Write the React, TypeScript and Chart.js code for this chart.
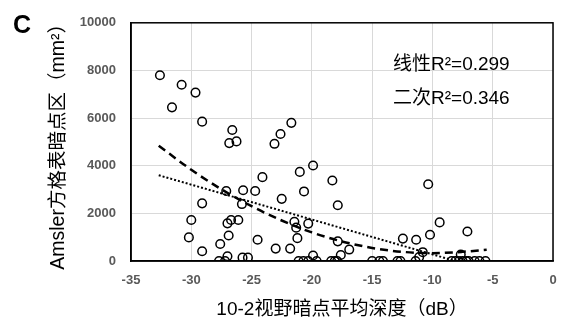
import React, { useEffect, useRef } from "react";
import { Chart, registerables } from "chart.js";

Chart.register(...registerables);

// Scatter points: mean depth of 10-2 scotoma (dB) vs Amsler grid scotoma area (mm²)
const scatterX = [
  -32.6, -30.8, -29.65, -31.6, -29.1, -26.6, -26.85, -26.25, -21.7, -22.6,
  -23.1, -19.9, -21.0, -18.3, -24.1, -25.7, -24.7, -20.65, -22.5, -25.8,
  -17.85, -27.1, -29.1, -30.0, -26.7, -27.0, -26.1, -30.2, -26.9, -27.6,
  -29.1, -27.0, -21.45, -21.3, -20.3, -21.2, -24.5, -23.0, -21.8, -17.85,
  -16.9, -17.6, -19.9, -25.75, -25.3, -10.35, -9.4, -7.1, -10.2, -12.45,
  -11.35, -10.8, -11.1, -7.65,
  -27.7, -27.2, -21.1, -20.7, -20.3, -19.6, -18.4, -18.1, -17.9, -15.0,
  -14.4, -14.1, -12.9, -12.65, -11.4, -8.4, -8.1, -7.8, -7.5, -7.2,
  -7.0, -6.5, -6.1, -5.6,
];
const scatterY = [
  7800, 7400, 7070, 6450, 5850, 5500, 4950, 5020, 5800, 5330,
  4920, 4010, 3740, 3380, 3520, 2970, 2940, 2920, 2610, 2390,
  2340, 2940, 2420, 1720, 1720, 1580, 1720, 990, 1070, 715,
  410, 200, 1650, 1400, 1570, 960, 890, 520, 520, 825,
  480, 250, 230, 140, 140, 3220, 1620, 1240, 1100, 940,
  890, 370, 165, 275,
  0, 0, 0, 0, 0, 0, 0, 0, 0, 0,
  0, 0, 0, 0, 0, 0, 0, 0, 0, 0,
  0, 0, 0, 0,
];

// Linear trend line (dotted), end points
const linearTrendX = [-32.7, -8.1];
const linearTrendY = [3600, 0];

// Quadratic trend line (dashed)
const quadTrendX = [-32.7, -30, -27.5, -25, -22.5, -20, -17.5, -15, -12.5, -10, -7.5, -5.5];
const quadTrendY = [4840, 3830, 3010, 2300, 1700, 1200, 820, 550, 385, 330, 385, 470];

const xTitle = "10-2视野暗点平均深度（dB）";
const yTitle = "Amsler方格表暗点区（mm²）";
const panelLabel = "C";
const annotations = ["线性R²=0.299", "二次R²=0.346"];

const toPoints = (xs: number[], ys: number[]) => xs.map((x, i) => ({ x, y: ys[i] }));

const mixedFamily = "'Liberation Sans', 'Noto Sans CJK SC', sans-serif";

export default function App() {
  const ref = useRef<HTMLCanvasElement | null>(null);

  useEffect(() => {
    document.body.style.margin = "0";
    const canvas = ref.current;
    if (!canvas) return;

    const overlay = {
      id: "overlay",
      beforeDatasetsDraw(chart: any) {
        const { ctx, chartArea } = chart;
        ctx.save();
        ctx.strokeStyle = "#000";
        ctx.lineWidth = 1.5;
        ctx.strokeRect(chartArea.left, chartArea.top, chartArea.right - chartArea.left, chartArea.bottom - chartArea.top);
        ctx.restore();
      },
      afterDraw(chart: any) {
        const { ctx } = chart;
        ctx.save();
        ctx.fillStyle = "#000";
        ctx.textBaseline = "alphabetic";
        ctx.textAlign = "left";
        ctx.font = "bold 25px 'Liberation Sans', Arial, sans-serif";
        ctx.fillText(panelLabel, 13, 33);
        ctx.font = `19px ${mixedFamily}`;
        ctx.textBaseline = "middle";
        ctx.fillText(annotations[0], 393, 65);
        ctx.fillText(annotations[1], 393, 99);
        ctx.restore();
      },
    };

    const tickFont = { family: "'Liberation Sans', Arial, sans-serif", size: 13, weight: "bold" as const };
    const fmt = (v: any) => String(v);

    const chart = new Chart(canvas, {
      type: "scatter",
      data: {
        datasets: [
          {
            label: "data",
            data: toPoints(scatterX, scatterY),
            pointRadius: 4.3,
            pointBorderWidth: 1.5,
            borderColor: "#000",
            backgroundColor: "rgba(0,0,0,0)",
            showLine: false,
          },
          {
            label: "quadratic",
            data: toPoints(quadTrendX, quadTrendY),
            showLine: true,
            pointRadius: 0,
            borderColor: "#000",
            borderWidth: 2.5,
            borderDash: [8, 5],
            cubicInterpolationMode: "monotone",
            fill: false,
          },
          {
            label: "linear",
            data: toPoints(linearTrendX, linearTrendY),
            showLine: true,
            pointRadius: 0,
            borderColor: "#000",
            borderWidth: 2,
            borderDash: [2, 2],
            fill: false,
          },
        ],
      },
      options: {
        animation: false,
        responsive: false,
        maintainAspectRatio: false,
        layout: { padding: { left: 0, right: 25, top: 18, bottom: 0 } },
        plugins: { legend: { display: false }, tooltip: { enabled: false } },
        scales: {
          x: {
            type: "linear",
            min: -35,
            max: 0,
            ticks: { stepSize: 5, color: "#595959", font: tickFont, padding: 12, callback: fmt },
            grid: { color: "#d9d9d9", drawTicks: false, lineWidth: 1 },
            border: { color: "#000", width: 1.5 },
            title: {
              display: true,
              text: xTitle,
              color: "#000",
              font: { family: mixedFamily, size: 19 },
              padding: { top: 0, bottom: 2 },
            },
            afterFit(scale: any) {
              scale.height = 62;
            },
          },
          y: {
            type: "linear",
            min: 0,
            max: 10000,
            ticks: { stepSize: 2000, color: "#595959", font: tickFont, padding: 15, callback: fmt },
            grid: { color: "#d9d9d9", drawTicks: false, lineWidth: 1 },
            border: { color: "#000", width: 1.5 },
            title: {
              display: true,
              text: yTitle,
              color: "#000",
              font: { family: mixedFamily, size: 19.5 },
              padding: { top: 47, bottom: 0 },
            },
            afterFit(scale: any) {
              scale.width = 131;
            },
          },
        },
      },
      plugins: [overlay],
    });

    return () => chart.destroy();
  }, []);

  return (
    <div style={{ width: 578, height: 323, background: "#fff" }}>
      <canvas ref={ref} width={578} height={323} style={{ display: "block", width: 578, height: 323 }} />
    </div>
  );
}
